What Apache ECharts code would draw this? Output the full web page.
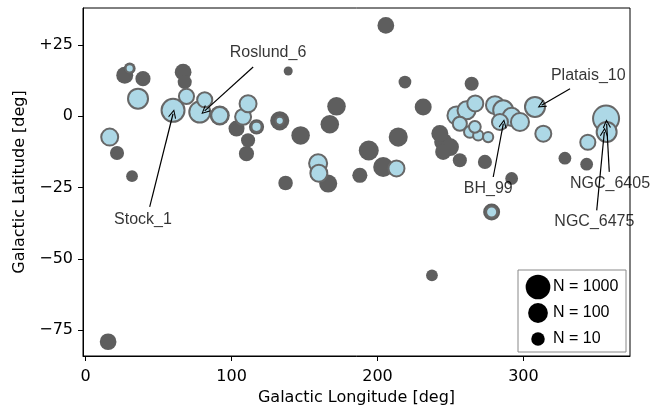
<!DOCTYPE html>
<html>
<head>
<meta charset="utf-8">
<script src="https://cdn.jsdelivr.net/npm/echarts@6/dist/echarts.min.js"></script>
<style>
  html, body { margin: 0; padding: 0; background: #fff; }
  #chart { width: 662px; height: 412px; }
</style>
</head>
<body>
<div id="chart"></div>
<script>
// grey clusters: galactic longitude, latitude, member count
const greyL = [21.5, 31.8, 15.4, 26.8, 39.3, 66.8, 67.9, 103.4, 111.3, 110.2, 133, 138.8, 147.3, 171.9, 167.3, 137, 166.2, 187.9, 194, 203.9, 205.7, 218.8, 231.3, 214.2, 237.3, 245, 249.6, 245, 256.4, 273.6, 291.9, 264.5, 328.4, 343.3, 278.2, 242.7, 30.2, 117.1, 91.9]
const greyB = [-12.9, -21, -79.1, 14.4, 13.2, 15.5, 12, -4.3, -8.4, -13.1, -1.6, 15.9, -6.7, 3.5, -2.8, -23.4, -23.6, -20.7, -12, -17.8, 31.9, 12, 3.3, -7.3, -55.8, -9, -10.8, -12.5, -15.4, -16, -21.8, 11.4, -14.7, -16.8, -33.6, -6, 16.8, -3.7, 0.3]
const greyN = [12, 6, 30, 33, 17, 30, 12, 23, 12, 17, 75, 3, 60, 60, 60, 14, 50, 17, 110, 110, 30, 8, 33, 75, 6, 50, 50, 23, 12, 12, 8, 12, 8, 8, 33, 33, 6, 17, 110]

// light blue clusters
const blueL = [16.5, 30.2, 35.9, 59.9, 69.1, 78.2, 81.6, 91.9, 107.9, 111.3, 117.1, 133, 159.3, 159.8, 213, 254.1, 261, 267, 256.4, 280.5, 286.1, 291.9, 297.6, 283.9, 263.3, 269, 275.8, 266.7, 307.9, 313.6, 278.2, 344.1, 356.6, 357]
const blueB = [-7.3, 16.8, 6.2, 2.1, 7, 1.5, 5.8, 0.3, -0.2, 4.4, -3.7, -1.6, -16.5, -20, -18.3, 0.3, 2.1, 4.5, -2.6, 3.9, 2.1, -0.2, -2, -2, -5.5, -6.7, -7.3, -3.7, 3.3, -6.1, -33.6, -9.1, -0.8, -5.5]
const blueN = [33, 2.5, 110, 430, 17, 170, 17, 33, 23, 33, 4, 2.5, 50, 33, 23, 50, 50, 23, 12, 50, 110, 50, 50, 23, 6, 4, 4, 6, 110, 23, 5, 17, 2000, 110]

// annotations
const annoNames = ['Roslund_6', 'Stock_1', 'Platais_10', 'BH_99', 'NGC_6405', 'NGC_6475']
const annoTextL = [125, 39.3, 344.4, 275.9, 359.3, 348.6]
const annoTextB = [22.2, -36.1, 14.4, -25.4, -23.5, -37]
const annoTailL = [114.8, 43.9, 331.9, 279.3, 358.8, 350.2]
const annoTailB = [17.3, -31.8, 9.7, -21.3, -19.5, -33]
const annoTipL = [81.6, 59.9, 312.4, 286.2, 357, 355.4]
const annoTipB = [1.9, 0.9, 3.9, -2.6, -2.6, -5.5]

// axis ticks
const xTicks = [0, 100, 200, 300]
const yTicks = [-75, -50, -25, 0, 25]
const legendN = [1000, 100, 10]

const sizeOf = n => 13.5 * Math.pow(Math.log10(n), 0.55)
const fmtLat = v => v > 0 ? '+' + v : (v < 0 ? '\u2212' + (-v) : '0')

const axisFont = { color: '#000', fontSize: 16, fontFamily: 'DejaVu Sans' }
const arrowHead = 'path://M5,0 L10,9 L9,10 L5,2.5 L1,10 L0,9 Z'

const chart = echarts.init(document.getElementById('chart'))

chart.setOption({
  animation: false,
  backgroundColor: '#fff',
  grid: { left: 83, right: 32, top: 8, bottom: 56, show: true, borderColor: '#000', borderWidth: 1 },
  xAxis: {
    type: 'value', min: -1.8, max: 373,
    name: 'Galactic Longitude [deg]', nameLocation: 'middle', nameGap: 34,
    nameTextStyle: axisFont,
    axisLine: { onZero: false, lineStyle: { color: '#000', width: 1 } },
    axisTick: { show: true, length: 5, customValues: xTicks, lineStyle: { color: '#000' } },
    axisLabel: { customValues: xTicks, margin: 13, ...axisFont },
    splitLine: { show: false }
  },
  yAxis: {
    type: 'value', min: -84.1, max: 38,
    name: 'Galactic Latitude [deg]', nameLocation: 'middle', nameGap: 53,
    nameTextStyle: axisFont,
    axisLine: { show: true, onZero: false, lineStyle: { color: '#000', width: 1 } },
    axisTick: { show: true, length: 5, customValues: yTicks, lineStyle: { color: '#000' } },
    axisLabel: { customValues: yTicks, margin: 10, formatter: fmtLat, ...axisFont },
    splitLine: { show: false }
  },
  series: [
    {
      name: 'other',
      type: 'scatter',
      z: 2,
      data: greyL.map((l, i) => [l, greyB[i], greyN[i]]),
      symbolSize: v => sizeOf(v[2]),
      itemStyle: { color: '#5e5e5e', opacity: 1 }
    },
    {
      name: 'selected',
      type: 'scatter',
      z: 3,
      data: blueL.map((l, i) => [l, blueB[i], blueN[i]]),
      symbolSize: v => sizeOf(v[2]),
      itemStyle: { color: '#add8e6', borderColor: '#676767', borderWidth: 2, opacity: 1 },
      markLine: {
        silent: true,
        symbol: ['none', arrowHead],
        symbolSize: [8, 9],
        label: { show: false },
        lineStyle: { color: '#000', width: 1.2, type: 'solid' },
        emphasis: { disabled: true },
        data: annoNames.map((n, i) => [
          { coord: [annoTailL[i], annoTailB[i]] },
          { coord: [annoTipL[i], annoTipB[i]] }
        ])
      }
    },
    {
      name: 'labels',
      type: 'scatter',
      z: 5,
      silent: true,
      data: annoNames.map((n, i) => [annoTextL[i], annoTextB[i], n]),
      symbolSize: 1,
      itemStyle: { color: 'rgba(0,0,0,0)' },
      label: {
        show: true, position: 'inside', formatter: p => p.data[2],
        color: '#000', fontSize: 16, fontFamily: 'Liberation Sans'
      }
    }
  ],
  graphic: [
    { type: 'rect', x: 518, y: 270, z: 10, shape: { width: 108, height: 82 }, style: { fill: '#fff', stroke: '#888', lineWidth: 1 } },
    ...legendN.map((n, i) => ({
      type: 'circle', x: 538, y: 287 + i * 26, z: 11,
      shape: { cx: 0, cy: 0, r: sizeOf(n) / 2 }, style: { fill: '#000' }
    })),
    ...legendN.map((n, i) => ({
      type: 'text', x: 553, y: 287 + i * 26, z: 11,
      style: { text: 'N = ' + n, fill: '#000', fontSize: 16, fontFamily: 'Liberation Sans', verticalAlign: 'middle' }
    }))
  ]
})
</script>
</body>
</html>
